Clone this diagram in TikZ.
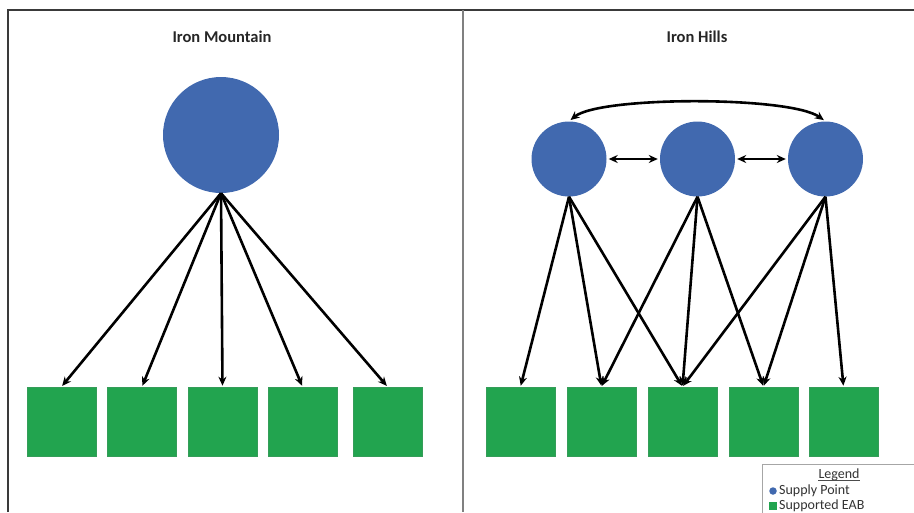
\documentclass[tikz,border=0pt]{standalone}
\usepackage{fontspec}
\setmainfont{Carlito}
\usetikzlibrary{arrows.meta}
\definecolor{supblue}{HTML}{4169AF}
\definecolor{eabgreen}{HTML}{22A44F}
\definecolor{frame}{HTML}{3A3A3A}
\begin{document}
\begin{tikzpicture}[x=1pt,y=-1pt,
  supply/.style={circle,fill=supblue,inner sep=0pt},
  eab/.style={rectangle,fill=eabgreen,draw=eabgreen!80!gray,line width=0.6pt,minimum width=69pt,minimum height=69pt,inner sep=0pt},
  link/.style={line width=2.6pt,-{Stealth[length=9pt,width=8pt]},shorten >=1pt},
  dlink/.style={line width=2.6pt,{Stealth[length=9pt,width=8pt]}-{Stealth[length=9pt,width=8pt]},shorten >=2pt,shorten <=2pt},
  title/.style={font=\bfseries\fontsize{16.5}{19}\selectfont,text=black!85},
  legtext/.style={font=\fontsize{14}{16}\selectfont,anchor=west,text=black!80,inner sep=0pt}]
\useasboundingbox (0,0) rectangle (914,512);
% frame
\draw[frame,line width=1.4pt] (8,512) -- (8,10) -- (914,10);
\draw[gray,line width=2.4pt] (463,10) -- (463,512);
% titles
\node[title] (t1) at (222,37) {Iron Mountain};
\node[title] (t2) at (697,37) {Iron Hills};
% left panel
\node[supply,minimum size=116pt] (c0) at (221,135) {};
\foreach \i/\x in {1/61.5,2/142,3/222.5,4/302.5,5/387.5}
  \node[eab] (l\i) at (\x,421.5) {};
\coordinate (c0b) at (c0.south);
\foreach \i in {1,...,5}
  \draw[link] (c0b) -- (l\i.north);
% right panel
\node[supply,minimum size=75pt] (r1) at (569,159) {};
\node[supply,minimum size=75pt] (r2) at (697.5,159) {};
\node[supply,minimum size=75pt] (r3) at (825.5,159) {};
\foreach \i/\x in {1/520.5,2/601.5,3/682.5,4/763.5,5/843.5}
  \node[eab] (b\i) at (\x,421.5) {};
\draw[dlink] (r1.east) -- (r2.west);
\draw[dlink] (r2.east) -- (r3.west);
\draw[dlink] (r1.north) .. controls (600,96) and (790,96) .. (r3.north);
\foreach \s/\t in {r1/b1,r1/b2,r1/b3,r2/b2,r2/b3,r2/b4,r3/b3,r3/b4,r3/b5}
  \draw[link] (\s.south) -- (\t.north);
% legend
\draw[gray!70,line width=0.8pt,fill=white] (762,530) -- (762,464) -- (930,464);
\node[font=\fontsize{14}{16}\selectfont,text=black!80,inner sep=0pt] (lg) at (839,475) {Legend};
\draw[black!70,line width=0.6pt] ([yshift=-1.8pt]lg.base west) -- ([yshift=-1.8pt]lg.base east);
\node[circle,fill=supblue,inner sep=0pt,minimum size=7.5pt] (ld) at (773,491) {};
\node[legtext] (lt1) at (779,491) {Supply Point};
\node[rectangle,fill=eabgreen,inner sep=0pt,minimum size=7.5pt] (ls) at (773,506) {};
\node[legtext] (lt2) at (779,506) {Supported EAB};
\end{tikzpicture}
\end{document}
